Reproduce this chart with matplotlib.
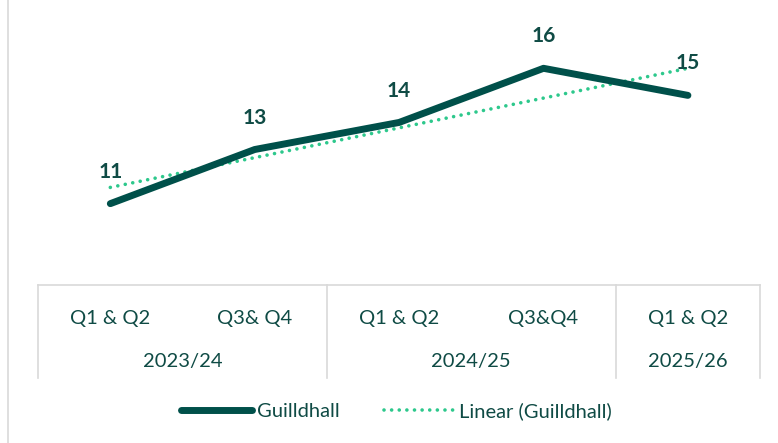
import matplotlib.pyplot as plt
from matplotlib.lines import Line2D
import numpy as np

plt.rcParams['font.family'] = ['Lato', 'DejaVu Sans']

quarters = ['Q1 & Q2', 'Q3& Q4', 'Q1 & Q2', 'Q3&Q4', 'Q1 & Q2']
years = ['2023/24', '2024/25', '2025/26']
year_sizes = [2, 2, 1]
values = [11, 13, 14, 16, 15]

dark = '#00504A'
trend_col = '#2DC88C'
text_col = '#0F4B45'
grid_col = '#D9D9D9'
dots = (0, (0.01, 2.1))

fig = plt.figure(figsize=(7.78, 4.43), dpi=100)
ax = fig.add_axes([0.049, 0.357, 0.928, 0.611])

x = np.arange(len(values))
ax.plot(x, values, color=dark, lw=5, solid_capstyle='round', solid_joinstyle='round', zorder=3)

coef = np.polyfit(x, values, 1)
ax.plot(x, np.polyval(coef, x), color=trend_col, lw=2.6, linestyle=dots,
        dash_capstyle='round', zorder=2)

for xi, v in zip(x, values):
    ax.annotate(str(v), (xi, v), xytext=(0, 23), textcoords='offset points',
                ha='center', va='center', fontsize=15, fontweight='bold', color=text_col)

ax.set_xlim(-0.5, len(values) - 0.5)
ax.set_ylim(8, 18)
ax.set_xticks([])
ax.set_yticks([])
for s in ax.spines.values():
    s.set_visible(False)

# multi-level category axis
tr = ax.get_xaxis_transform()
ax.plot([-0.5, len(values) - 0.5], [0, 0], transform=tr, color=grid_col, lw=1.2, clip_on=False)
row1 = -0.125
row2 = -0.285
bottom = -0.345
for xi, q in zip(x, quarters):
    ax.text(xi, row1, q, transform=tr, ha='center', va='center', fontsize=14.5, color=text_col)

edge = -0.5
ax.plot([edge, edge], [0, bottom], transform=tr, color=grid_col, lw=1.2, clip_on=False)
for yr, n in zip(years, year_sizes):
    ax.text(edge + n / 2, row2, yr, transform=tr, ha='center', va='center', fontsize=14.5, color=text_col)
    edge += n
    ax.plot([edge, edge], [0, bottom], transform=tr, color=grid_col, lw=1.2, clip_on=False)

# outer chart border (left side visible)
fig.add_artist(Line2D([0.010, 0.010], [0, 1], color=grid_col, lw=1.2))

handles = [
    Line2D([], [], color=dark, lw=5, solid_capstyle='round'),
    Line2D([], [], color=trend_col, lw=2.6, linestyle=dots, dash_capstyle='round'),
]
fig.legend(handles, ['Guilldhall', 'Linear (Guilldhall)'], loc='center', bbox_to_anchor=(0.51, 0.072),
           ncol=2, frameon=False, fontsize=14.5, handlelength=3.5, handletextpad=0.25,
           columnspacing=2.2, labelcolor=text_col)

fig.savefig('out.png', dpi=100)
